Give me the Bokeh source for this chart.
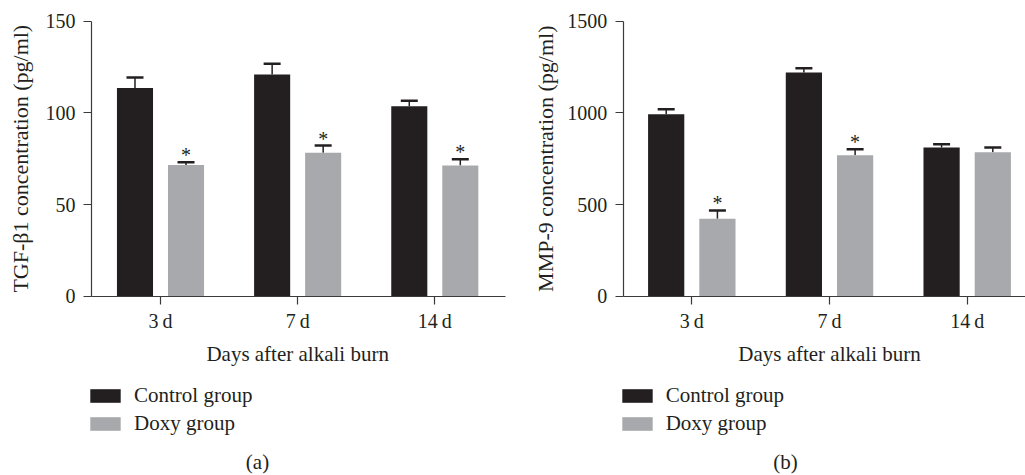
import math
from bokeh.plotting import figure
from bokeh.models import (ColumnDataSource, Range1d, FixedTicker, Whisker, TeeHead,
                          Legend, LegendItem, Label, LinearAxis)
from bokeh.layouts import row
from bokeh.embed import file_html
from bokeh.resources import INLINE
from bokeh.core.properties import value

# ---------------- data ----------------
days = ["3\u2009d", "7\u2009d", "14\u2009d"]
groups = ["Control group", "Doxy group"]

tgf_control = [113.5, 120.9, 103.6]
tgf_control_err = [5.8, 5.9, 3.0]
tgf_doxy = [71.5, 78.2, 71.3]
tgf_doxy_err = [1.6, 4.0, 3.4]
tgf_doxy_sig = [True, True, True]

mmp_control = [993, 1220, 811]
mmp_control_err = [27, 24, 18]
mmp_doxy = [422, 769, 785]
mmp_doxy_err = [46, 33, 26]
mmp_doxy_sig = [True, True, False]

y_title_a = "TGF-β1 concentration (pg/ml)"
y_title_b = "MMP-9 concentration (pg/ml)"
x_title = "Days after alkali burn"
y_ticks_a = [0, 50, 100, 150]
y_ticks_b = [0, 500, 1000, 1500]

DARK = "#231f20"
GRAY = "#a7a9ac"
AXIS = "#3a3a3a"
FONT = "Liberation Serif"
BAR_W = 0.263
OFF = 0.186

# ---------------- layout (pixels) ----------------
FIG_H = 474
Y_TOP_PX = 20.7      # pixel row of y = ymax
Y_ZERO_PX = 295.7    # pixel row of y = 0


def panel(ctrl, ctrl_err, doxy, doxy_err, sig, ytitle, yticks, ymax,
          width, tick0_px, cat_px, yaxis_px, xaxis_end_px, ytitle_px, tag, tag_px):
    ppu = (Y_ZERO_PX - Y_TOP_PX) / ymax
    y_range = Range1d(-(FIG_H - Y_ZERO_PX) / ppu, ymax + Y_TOP_PX / ppu)
    x_range = Range1d(-tick0_px / cat_px, (width - tick0_px) / cat_px)
    p = figure(width=width, height=FIG_H, output_backend="svg", toolbar_location=None,
               x_range=x_range, y_range=y_range,
               x_axis_location=None, y_axis_location=None,
               min_border_left=0, min_border_right=0, min_border_top=0, min_border_bottom=0)
    p.outline_line_color = None
    p.grid.visible = False

    idx = list(range(len(days)))
    xc = [i - OFF for i in idx]
    xd = [i + OFF for i in idx]
    src_c = ColumnDataSource(dict(x=xc, top=ctrl, up=[v + e for v, e in zip(ctrl, ctrl_err)]))
    src_d = ColumnDataSource(dict(x=xd, top=doxy, up=[v + e for v, e in zip(doxy, doxy_err)]))

    rc = p.vbar(x="x", top="top", bottom=0, width=BAR_W, source=src_c, fill_color=DARK, line_color=None)
    rd = p.vbar(x="x", top="top", bottom=0, width=BAR_W, source=src_d, fill_color=GRAY, line_color=None)

    for src in (src_c, src_d):
        w = Whisker(base="x", lower="top", upper="up", source=src, dimension="height",
                    line_color=DARK, line_width=1.5, lower_head=None,
                    upper_head=TeeHead(size=17, line_color=DARK, line_width=2.5))
        p.add_layout(w)

    sx = [x for x, s in zip(xd, sig) if s]
    sy = [u for u, s in zip(src_d.data["up"], sig) if s]
    p.text(x=sx, y=sy, text=["*"] * len(sx), text_align="center", text_baseline="alphabetic",
           y_offset=-7, text_font=value(FONT), text_font_size="20px", text_color=DARK)

    # axes drawn at fixed positions inside the frame
    yaxis_x = (yaxis_px - tick0_px) / cat_px
    xaxis = LinearAxis(fixed_location=0, bounds=(yaxis_x, (xaxis_end_px - tick0_px) / cat_px))
    yaxis = LinearAxis(fixed_location=yaxis_x, bounds=(0, ymax))
    p.add_layout(xaxis, "below")
    p.add_layout(yaxis, "left")
    xaxis.ticker = FixedTicker(ticks=idx)
    xaxis.major_label_overrides = {i: d for i, d in enumerate(days)}
    yaxis.ticker = FixedTicker(ticks=yticks)
    for ax in (xaxis, yaxis):
        ax.axis_line_color = AXIS
        ax.axis_line_width = 1.2
        ax.major_tick_line_color = AXIS
        ax.major_tick_line_width = 1.2
        ax.major_tick_out = 8
        ax.major_tick_in = 0
        ax.minor_tick_line_color = None
        ax.major_label_text_font = FONT
        ax.major_label_text_font_size = "20px"
        ax.major_label_text_color = DARK
    xaxis.major_label_standoff = 6
    yaxis.major_label_standoff = 8
    yaxis.major_label_orientation = "horizontal"

    # axis titles
    p.add_layout(Label(x=ytitle_px, y=ymax / 2, x_units="screen", y_units="data",
                       text=ytitle, angle=math.pi / 2, text_align="center",
                       text_baseline="middle", text_font=FONT, text_font_size="22px",
                       text_color=DARK))
    p.add_layout(Label(x=1, y=FIG_H - 353, x_units="data", y_units="screen",
                       text=x_title, text_align="center", text_baseline="middle",
                       text_font=FONT, text_font_size="21px", text_color=DARK))

    legend = Legend(items=[LegendItem(label=groups[0], renderers=[rc]),
                           LegendItem(label=groups[1], renderers=[rd])],
                    location=(yaxis_px - 5, 38), orientation="vertical",
                    padding=0, margin=0, spacing=3,
                    glyph_width=38, glyph_height=17, label_height=24,
                    label_standoff=10, border_line_color=None,
                    background_fill_alpha=0,
                    label_text_font=FONT, label_text_font_size="21px",
                    label_text_color=DARK)
    p.add_layout(legend, "center")

    p.add_layout(Label(x=tag_px, y=FIG_H - 461, x_units="screen", y_units="screen", text=tag,
                       text_align="center", text_baseline="middle",
                       text_font=FONT, text_font_size="21px", text_color=DARK))
    return p


pa = panel(tgf_control, tgf_control_err, tgf_doxy, tgf_doxy_err, tgf_doxy_sig,
           y_title_a, y_ticks_a, 150,
           width=530, tick0_px=160, cat_px=137.15, yaxis_px=91, xaxis_end_px=505,
           ytitle_px=20, tag="(a)", tag_px=257)
pb = panel(mmp_control, mmp_control_err, mmp_doxy, mmp_doxy_err, mmp_doxy_sig,
           y_title_b, y_ticks_b, 1500,
           width=495, tick0_px=161.3, cat_px=137.7, yaxis_px=92.7, xaxis_end_px=495,
           ytitle_px=15, tag="(b)", tag_px=255)

layout = row(pa, pb, spacing=0)
open("out.html", "w").write(file_html(layout, INLINE))
